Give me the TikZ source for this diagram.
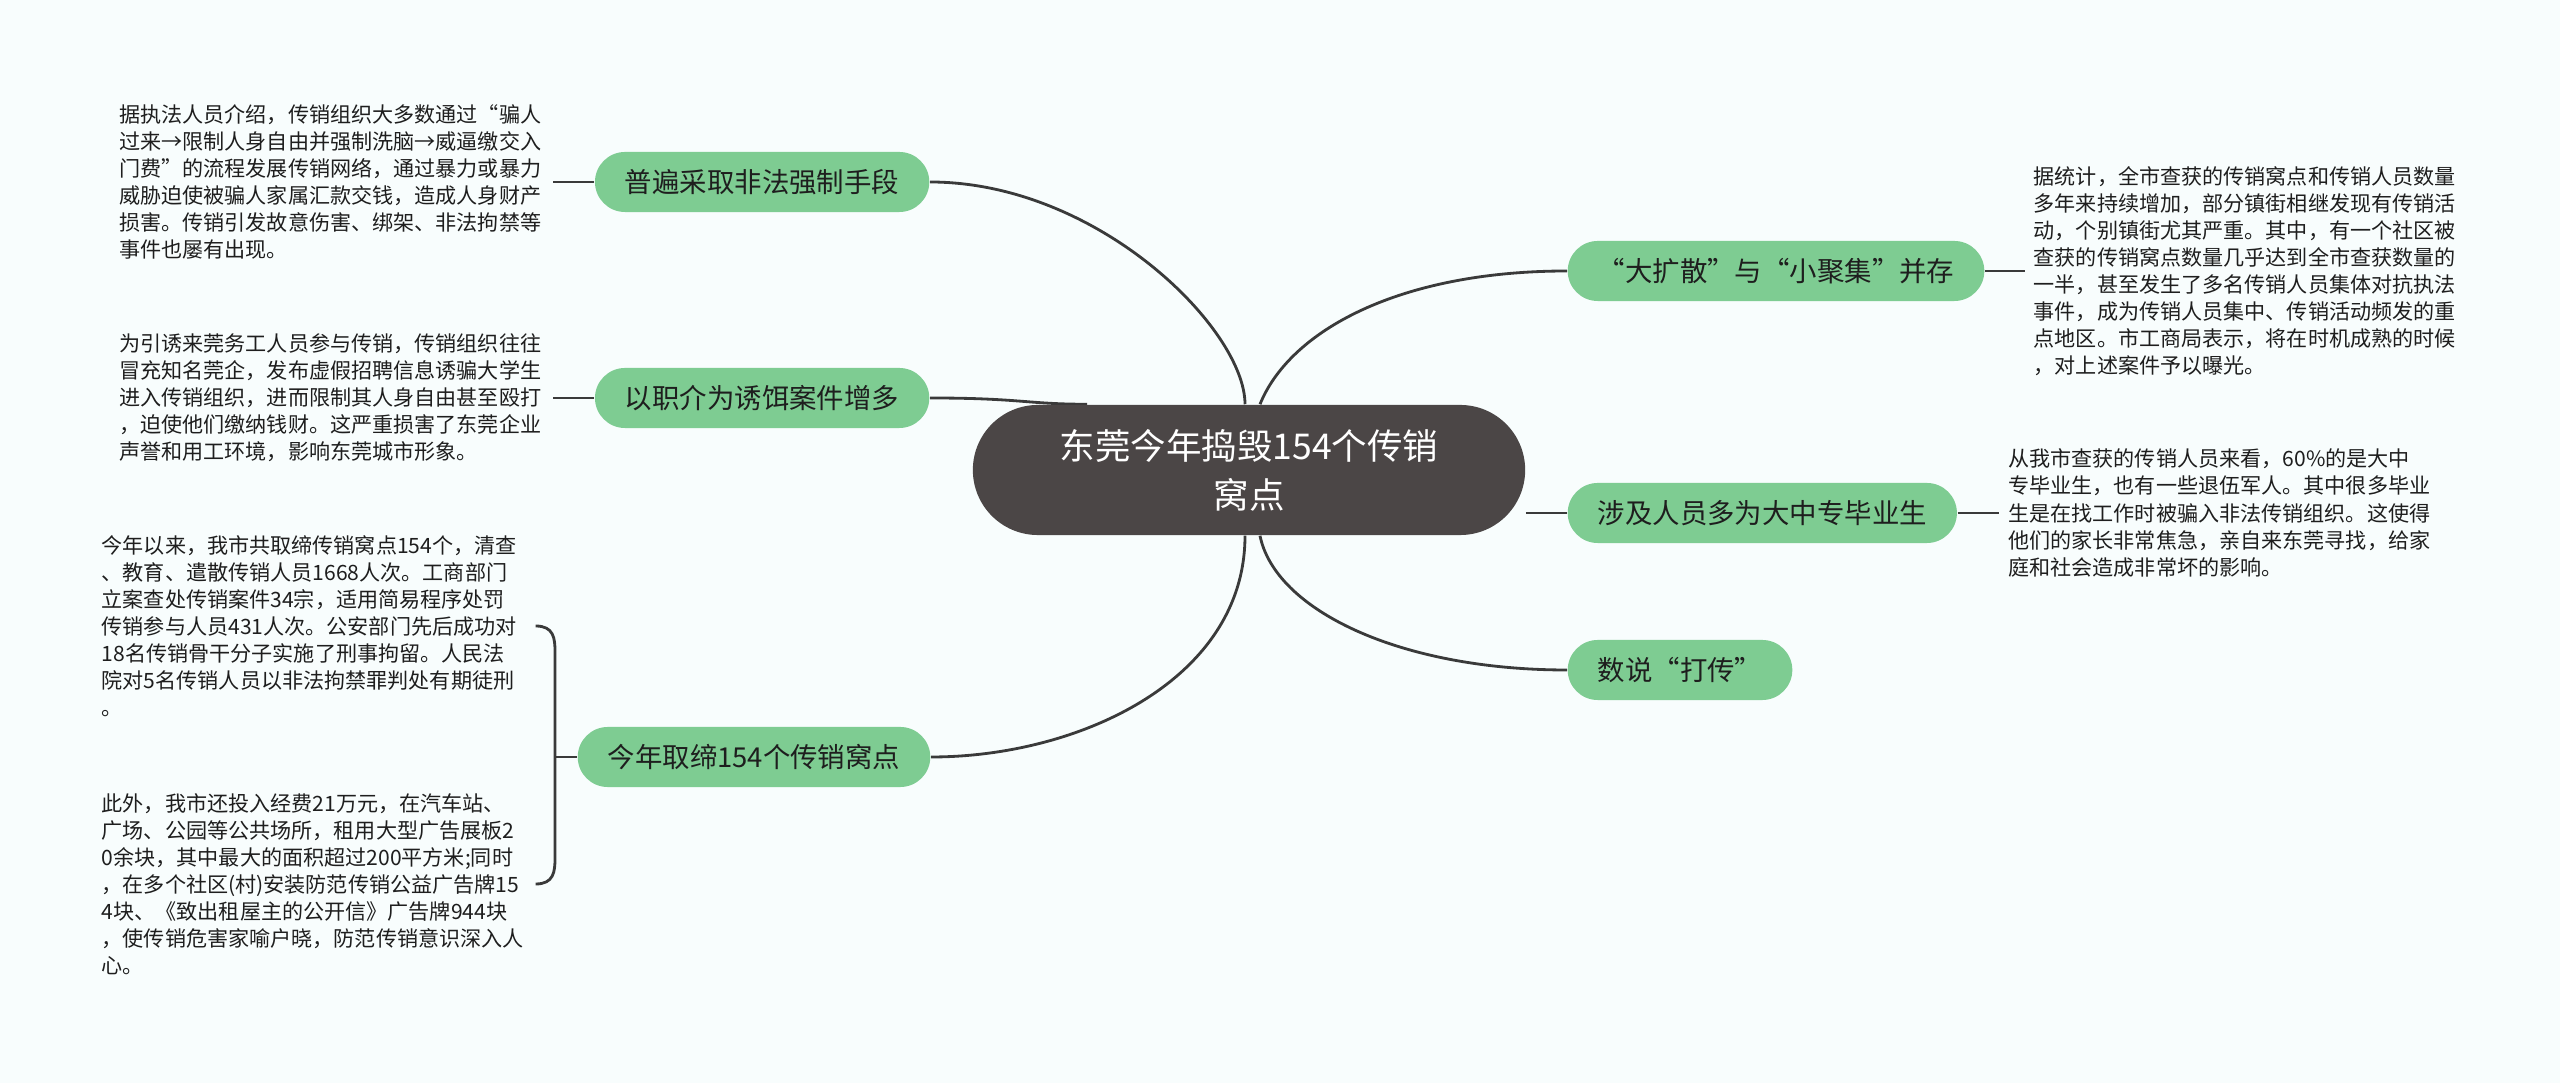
\documentclass[tikz,border=0pt]{standalone}
\usepackage{fontspec}
\setmainfont{Noto Sans CJK SC}
\usepackage{xcolor}
\usepackage{tikz}
\usetikzlibrary{shapes,positioning,calc,backgrounds}

\definecolor{bgc}{HTML}{F8FDFD}
\definecolor{mainc}{HTML}{4B4646}
\definecolor{branchc}{HTML}{7ECC92}
\definecolor{linec}{HTML}{3A3A3A}
\definecolor{txtc}{HTML}{1E1E1E}

\begin{document}
\begin{tikzpicture}[x=0.01cm, y=-0.01cm,
    central/.style={rectangle, rounded corners=0.65cm, fill=mainc, text=white, minimum width=5.52cm, minimum height=1.3cm, align=center, font=\fontsize{10.1}{13.9}\selectfont},
    topic/.style={rectangle, rounded corners=0.3cm, fill=branchc, text=txtc, minimum height=0.6cm, inner xsep=0.3cm, font=\fontsize{7.8}{9}\selectfont},
    detail/.style={text width=4.3cm, align=left, inner xsep=0.03cm, inner ysep=0pt, text=txtc, font=\fontsize{6}{7.7}\selectfont},
    branch_link/.style={draw=linec, line width=0.8pt}
]

% --- CENTRE ---
\node[central] (main) at (1249, 470) {东莞今年捣毁154个传销\\窝点};

% --- LEFT BRANCHES ---
\node[topic, anchor=east] (b1) at (930, 182) {普遍采取非法强制手段};
\node[topic, anchor=east] (b2) at (930, 398) {以职介为诱饵案件增多};
\node[topic, anchor=east] (b3) at (931, 757) {今年取缔154个传销窝点};

\node[detail, left=0.41cm of b1] (L1) {据执法人员介绍，传销组织大多数通过“骗人\\
过来→限制人身自由并强制洗脑→威逼缴交入\\
门费”的流程发展传销网络，通过暴力或暴力\\
威胁迫使被骗人家属汇款交钱，造成人身财产\\
损害。传销引发故意伤害、绑架、非法拘禁等\\
事件也屡有出现。};

\node[detail, left=0.41cm of b2] (L2) {为引诱来莞务工人员参与传销，传销组织往往\\
冒充知名莞企，发布虚假招聘信息诱骗大学生\\
进入传销组织，进而限制其人身自由甚至殴打\\
，迫使他们缴纳钱财。这严重损害了东莞企业\\
声誉和用工环境，影响东莞城市形象。};

\node[detail, anchor=west] (L3a) at (98, 626) {今年以来，我市共取缔传销窝点154个，清查\\
、教育、遣散传销人员1668人次。工商部门\\
立案查处传销案件34宗，适用简易程序处罚\\
传销参与人员431人次。公安部门先后成功对\\
18名传销骨干分子实施了刑事拘留。人民法\\
院对5名传销人员以非法拘禁罪判处有期徒刑\\
。};

\node[detail, anchor=west] (L3b) at (98, 884) {此外，我市还投入经费21万元，在汽车站、\\
广场、公园等公共场所，租用大型广告展板2\\
0余块，其中最大的面积超过200平方米;同时\\
，在多个社区(村)安装防范传销公益广告牌15\\
4块、《致出租屋主的公开信》广告牌944块\\
，使传销危害家喻户晓，防范传销意识深入人\\
心。};

% --- RIGHT BRANCHES ---
\node[topic, anchor=west] (b4) at (1567, 271) {“大扩散”与“小聚集”并存};
\node[topic, anchor=west] (b5) at (1567, 513) {涉及人员多为大中专毕业生};
\node[topic, anchor=west] (b6) at (1567, 670) {数说“打传”};

\node[detail, right=0.45cm of b4] (R1) {据统计，全市查获的传销窝点和传销人员数量\\
多年来持续增加，部分镇街相继发现有传销活\\
动，个别镇街尤其严重。其中，有一个社区被\\
查获的传销窝点数量几乎达到全市查获数量的\\
一半，甚至发生了多名传销人员集体对抗执法\\
事件，成为传销人员集中、传销活动频发的重\\
点地区。市工商局表示，将在时机成熟的时候\\
，对上述案件予以曝光。};

\node[detail, right=0.47cm of b5] (R2) {从我市查获的传销人员来看，60\%的是大中\\
专毕业生，也有一些退伍军人。其中很多毕业\\
生是在找工作时被骗入非法传销组织。这使得\\
他们的家长非常焦急，亲自来东莞寻找，给家\\
庭和社会造成非常坏的影响。};

% --- CONNECTORS ---
\begin{scope}[on background layer]
    \path[fill=bgc, use as bounding box] (0, 0) rectangle (2560, 1083);

    \draw[branch_link] ($(main.north)+(-4,0)$) .. controls +(0,-75) and +(168,0) .. (b1.east);
    \draw[branch_link] (b2.east) .. controls +(90,0) and +(-60,0) .. ($(main.north)+(-162,0)$);
    \draw[branch_link] ($(main.south)+(-4,0)$) .. controls +(0,144) and +(148,0) .. (b3.east);
    \draw[branch_link] ($(main.north)+(11,0)$) .. controls +(30,-74) and +(-167,0) .. (b4.west);
    \draw[branch_link] (main.east |- b5.west) -- (b5.west);
    \draw[branch_link] ($(main.south)+(11,0)$) .. controls +(15,74) and +(-168,0) .. (b6.west);

    % details
    \draw[branch_link] (L1.east) -- (b1.west);
    \draw[branch_link] (L2.east) -- (b2.west);
    \draw[branch_link] (b4.east) -- ($(R1.west)+(-5,0)$);
    \draw[branch_link] (b5.east) -- ($(R2.west)+(-6,0)$);

    % brace for the two notes of b3
    \coordinate (jn) at ($(b3.west)+(-22,0)$);
    \draw[branch_link] (L3a.east) .. controls +(18,0) and +(0,-14) .. ($(jn |- L3a.east)+(0,26)$)
        -- ($(jn |- L3b.east)+(0,-26)$) .. controls +(0,14) and +(18,0) .. (L3b.east);
    \draw[branch_link] (jn) -- (b3.west);
\end{scope}

\end{tikzpicture}
\end{document}
